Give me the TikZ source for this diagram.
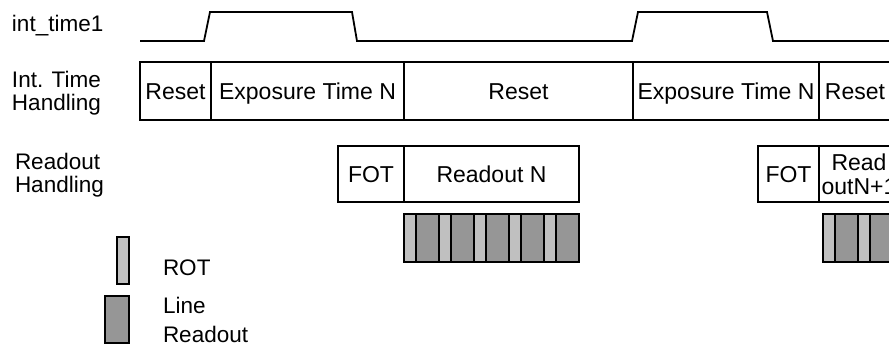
\documentclass[tikz,border=0pt]{standalone}
\usepackage{fontspec}
\setmainfont{Liberation Sans}
\definecolor{lgray}{HTML}{C0C0C0}
\definecolor{dgray}{HTML}{969696}
\begin{document}
\begin{tikzpicture}[x=1pt,y=-1pt,
  every node/.style={inner sep=0pt, outer sep=0pt},
  lbl/.style={font=\fontsize{22.5}{23.5}\selectfont, align=left, anchor=north west},
  box/.style={draw, line width=1.8pt, font=\fontsize{23}{24}\selectfont, anchor=north west},
  capht/.style={text height=16.4pt, text depth=0pt},
  rotbar/.style={draw, line width=1.5pt, fill=lgray},
  linebar/.style={draw, line width=1.5pt, fill=dgray},
  sig/.style={line width=1.8pt, line join=miter}]
\useasboundingbox (0,0) rectangle (889,352);
\clip (0,0) rectangle (889,352);

% left labels
\node[lbl] (lsig) at (12,15) {int\_time1};
\node[lbl] (lint) at (12,71) {Int. Time\\Handling};
\node[lbl] (lro) at (15,153) {Readout\\Handling};

% int_time1 waveform
\draw[sig] (140,41) -- (204,41) -- (210,12) -- (352,12) -- (357,41)
  -- (632,41) -- (638,12) -- (767,12) -- (773,41) -- (889,41);

% integration time handling row
\node[box, capht, minimum width=71, minimum height=58] (r1) at (140,62) {Reset};
\node[box, capht, minimum width=193, minimum height=58] (e1) at (211,62) {Exposure Time N};
\node[box, capht, minimum width=229, minimum height=58] (r2) at (404,62) {Reset};
\node[box, capht, minimum width=186, minimum height=58] (e2) at (633,62) {Exposure Time N};
\node[box, capht, minimum width=72, minimum height=58] (r3) at (819,62) {Reset};

% readout handling row
\node[box, capht, minimum width=66, minimum height=56] (f1) at (338,146) {FOT};
\node[box, capht, minimum width=175, minimum height=56] (ro1) at (404,146) {Readout N};
\node[box, capht, minimum width=61, minimum height=56] (f2) at (758,146) {FOT};
\node[box, align=center, minimum width=80, minimum height=56] (ro2) at (819,146) {Read\\outN+1};

% line readout bars N
\foreach \i in {0,...,4}{
  \draw[rotbar] ({404+35*\i},214) rectangle ++(12,48);
  \draw[linebar] ({416+35*\i},214) rectangle ++(23,48);
}
% line readout bars N+1
\draw[rotbar] (823,214) rectangle ++(12,48);
\draw[linebar] (835,214) rectangle ++(23,48);
\draw[rotbar] (858,214) rectangle ++(12,48);
\draw[linebar] (870,214) rectangle ++(30,48);

% legend
\node[rotbar, anchor=north west, minimum width=12, minimum height=47] (legrot) at (117,237) {};
\node[linebar, anchor=north west, minimum width=24, minimum height=47] (legline) at (105,296) {};
\node[lbl] (trot) at (163,260) {ROT};
\node[lbl, font=\fontsize{22.5}{29}\selectfont] (tline) at (163,297) {Line\\Readout};
\end{tikzpicture}
\end{document}
